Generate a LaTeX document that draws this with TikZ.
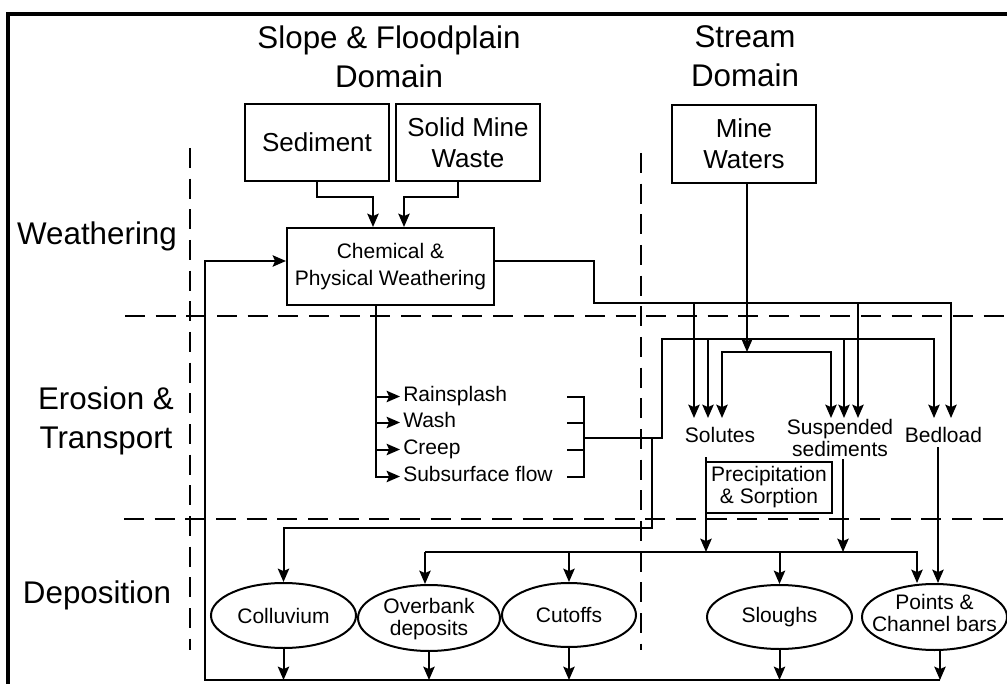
\documentclass[tikz,border=0pt]{standalone}
\usepackage{fontspec}
\setmainfont{Liberation Sans}
\usetikzlibrary{arrows.meta,shapes.geometric,calc}
\newcommand\sizeTitle{\fontsize{23.5pt}{29.25pt}\selectfont}
\newcommand\sizeBox{\fontsize{19.5pt}{23pt}\selectfont}
\newcommand\sizeText{\fontsize{15.75pt}{16.5pt}\selectfont}
\newcommand\sizeChem{\fontsize{15.75pt}{20.25pt}\selectfont}
\begin{document}
\begin{tikzpicture}[x=0.75pt,y=-0.75pt,
  conn/.style={line width=1.5pt},
  arr/.style={conn,-{Stealth[length=10pt,width=8.5pt,inset=1.8pt]}},
  box/.style={draw,line width=1.5pt,inner sep=0pt,align=center},
  oval/.style={ellipse,draw,line width=1.5pt,inner sep=0pt},
  divider/.style={line width=1.5pt,dash pattern=on 15pt off 8pt},
  heading/.style={align=center,font=\sizeTitle,inner sep=0pt},
  stage/.style={font=\sizeTitle,inner sep=0pt},
  process/.style={anchor=west,font=\sizeText,inner sep=2.25pt,text height=11.5pt,text depth=3.3pt},
  load/.style={align=center,font=\sizeText,inner sep=0pt},
]
\useasboundingbox (0,0) rectangle (1007,684);

% frame
\draw[line width=2.3pt] (8,684) -- (8,14) -- (1007,14);

% domain and stage dividers
\draw[divider] (190,148) -- (190,650);
\draw[divider] (641,153) -- (641,650);
\draw[divider] (125,316) -- (1007,316);
\draw[divider] (124,519) -- (1007,519);

% domain headings
\node[heading] (hslope) at (389,56.5) {Slope \& Floodplain\\Domain};
\node[heading] (hstream) at (745,56.5) {Stream\\Domain};

% stage labels
\node[stage,anchor=base] (lweather) at (97,245) {Weathering};
\node[stage,align=center] (lerosion) at (106,421) {Erosion \&\\Transport};
\node[stage,anchor=base] (ldepo) at (97,603) {Deposition};

% sources
\node[box,font=\sizeBox,minimum width=108pt,minimum height=57.75pt] (sed) at (317,142.5) {Sediment};
\node[box,font=\sizeBox,minimum width=108pt,minimum height=57.75pt] (smw) at (468,142.5) {Solid Mine\\Waste};
\node[box,font=\sizeBox,minimum width=108pt,minimum height=58.5pt] (mw) at (744,144) {Mine\\Waters};

% weathering
\node[box,font=\sizeChem,minimum width=155.25pt,minimum height=57.75pt] (chem) at (390.5,266.5) {Chemical \&\\Physical Weathering};

% erosion processes
\node[process] (rs) at (400,396.5) {Rainsplash};
\node[process] (wa) at (400,422.5) {Wash};
\node[process] (cr) at (400,449.5) {Creep};
\node[process] (sf) at (400,476.5) {Subsurface flow};

% stream loads
\node[load,anchor=base] (sol) at (720,442) {Solutes};
\node[load] (sus) at (840,437.5) {Suspended\\sediments};
\node[load,anchor=base] (bed) at (943.5,442) {Bedload};
\node[box,font=\sizeText,minimum width=94.5pt,minimum height=38.25pt] (ps) at (769,487.5) {Precipitation\\\& Sorption};

% deposits
\node[oval,minimum width=108.75pt,minimum height=48.75pt,label={[load]center:Colluvium}] (col) at (283.5,615.5) {};
\node[oval,minimum width=106.5pt,minimum height=49.5pt,label={[load,yshift=-1pt]center:{Overbank\\deposits}}] (ovb) at (429,618) {};
\node[oval,minimum width=100.5pt,minimum height=48pt,label={[load]center:Cutoffs}] (cut) at (569,615) {};
\node[oval,minimum width=108.75pt,minimum height=48pt,label={[load]center:Sloughs}] (slo) at (779.5,617) {};
\node[oval,minimum width=108.75pt,minimum height=49.5pt,label={[load,yshift=3pt]center:{Points \&\\Channel bars}}] (pts) at (934.5,617) {};

% junction points
\coordinate (jsed) at (373,197);
\coordinate (jsmw) at (404,197);
\coordinate (jw) at (594,303);
\coordinate (jwsol) at (694,303);
\coordinate (jwsus) at (858,303);
\coordinate (jwbed) at (951,303);
\coordinate (jmw) at (747,352);
\coordinate (jmwsol) at (722,352);
\coordinate (jmwsus) at (831,352);
\coordinate (jer) at ($(chem.south)+(-14.5,0)$);
\coordinate (bx) at (567,0);
\coordinate (by) at (584,0);
\coordinate (brk) at (584,438);
\coordinate (jbr) at (662,339);
\coordinate (jesol) at (708,339);
\coordinate (jesus) at (844,339);
\coordinate (jebed) at (934,339);
\coordinate (jcol) at (652,438);
\coordinate (jcol2) at (652,528);
\coordinate (tips) at (0,418);
\coordinate (soldrop) at (706,457);
\coordinate (susdrop) at (843,459);
\coordinate (beddrop) at (938,447);
\coordinate (dl) at (425,552);
\coordinate (dr) at (917,552);
\coordinate (jret) at (205,680);
\coordinate (jret2) at (940,680);

% sources into weathering
\draw[arr] (sed.south) |- (jsed) -- (jsed |- chem.north);
\draw[arr] ($(smw.south)+(-10,0)$) |- (jsmw) -- (jsmw |- chem.north);

% weathering products to the stream
\draw[arr] ($(chem.east)+(0,-5.5)$) -| (jw) -- (jwbed) -- (jwbed |- tips);
\draw[arr] (jwsol) -- (jwsol |- tips);
\draw[arr] (jwsus) -- (jwsus |- tips);

% mine waters
\draw[arr] ($(mw.south)+(3,0)$) -- (jmw);
\draw[arr] (jmw) -| (jmwsol |- tips);
\draw[arr] (jmw) -| (jmwsus |- tips);

% erosion processes
\draw[arr] (jer) |- (sf.west);
\draw[arr] (jer |- rs.west) -- (rs.west);
\draw[arr] (jer |- wa.west) -- (wa.west);
\draw[arr] (jer |- cr.west) -- (cr.west);

% bracket collecting the processes
\draw[conn] (bx |- rs.west) -- (by |- rs.west) -- (by |- sf.west) -- (bx |- sf.west);
\draw[conn] (bx |- wa.west) -- (by |- wa.west);
\draw[conn] (bx |- cr.west) -- (by |- cr.west);
\draw[arr] (brk) -| (jbr) -- (jebed) -- (jebed |- tips);
\draw[arr] (jesol) -- (jesol |- tips);
\draw[arr] (jesus) -- (jesus |- tips);
\draw[arr] (jcol) -- (jcol2) -| (col.north);

% loads to deposits
\draw[arr] (soldrop) -- (soldrop |- dl);
\draw[arr] (susdrop) -- (susdrop |- dl);
\draw[arr] (beddrop) -- (beddrop |- pts.north);
\draw[arr] (dl) -- (dr) -- (dr |- pts.north);
\draw[arr] (dl) -- (dl |- ovb.north);
\draw[arr] (cut.north |- dl) -- (cut.north);
\draw[arr] (slo.north |- dl) -- (slo.north);

% return to weathering
\draw[arr] (col.south) -- (col.south |- jret);
\draw[arr] (ovb.south) -- (ovb.south |- jret);
\draw[arr] (cut.south) -- (cut.south |- jret);
\draw[arr] (slo.south) -- (slo.south |- jret);
\draw[arr] (jret2 |- pts.south) -- (jret2);
\draw[arr] (jret2) -- (jret) |- ($(chem.west)+(0,-5.5)$);
\end{tikzpicture}
\end{document}
